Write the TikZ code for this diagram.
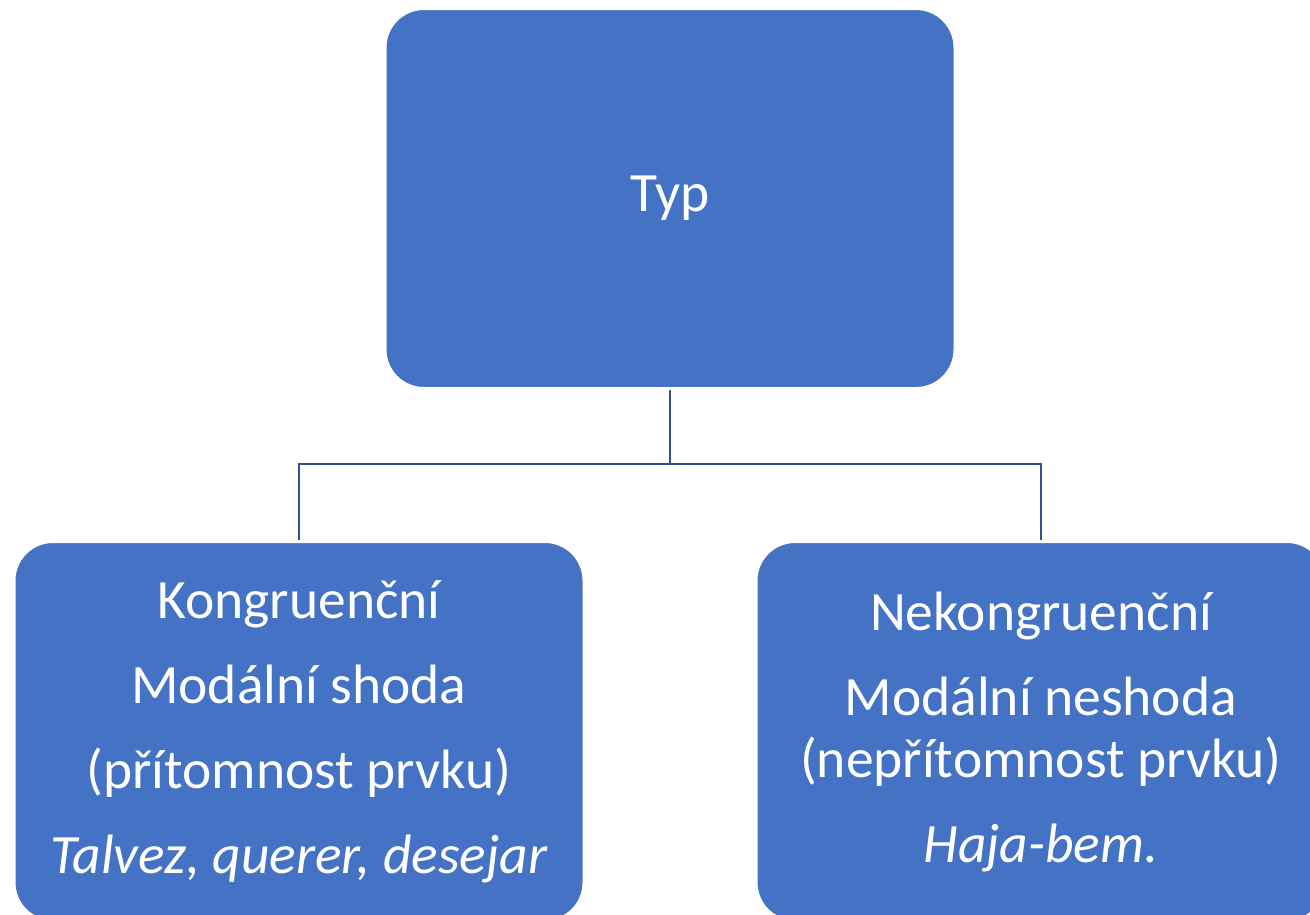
\documentclass[tikz,border=0pt]{standalone}
\usepackage{fontspec}
\setmainfont{Carlito}
\usetikzlibrary{backgrounds}
\definecolor{boxblue}{HTML}{4472C4}
\definecolor{lineblue}{HTML}{2F528F}
\begin{document}
\begin{tikzpicture}[x=1pt,y=-1pt,
  box/.style={fill=boxblue, draw=white, line width=3pt, rounded corners=39pt,
    minimum width=570pt, minimum height=380pt, text=white, align=center,
    font=\fontsize{55.5}{62}\selectfont, inner sep=0pt},
  conn/.style={draw=lineblue, line width=2pt}]
\useasboundingbox (0,0) rectangle (1310,914);
\clip (0,0) rectangle (1310,914);
\coordinate (m) at (670,464);
\node[box] (top) at (670,198.5) {Typ};
\node[box] (left) at (299,731.5) {Kongruenční\\[23pt]Modální shoda\\[23pt](přítomnost prvku)\\[23pt]\textit{Talvez, querer, desejar}};
\node[box] (right) at (1041,731.5) {Nekongruenční\\[23pt]Modální neshoda\\(nepřítomnost prvku)\\[23pt]\textit{Haja-bem.}};
\begin{scope}[on background layer]
\fill[white] (0,0) rectangle (1310,914);
\draw[conn] (top.south) -- (top.south |- m) -| (left.north);
\draw[conn] (top.south |- m) -| (right.north);
\end{scope}
\end{tikzpicture}
\end{document}
